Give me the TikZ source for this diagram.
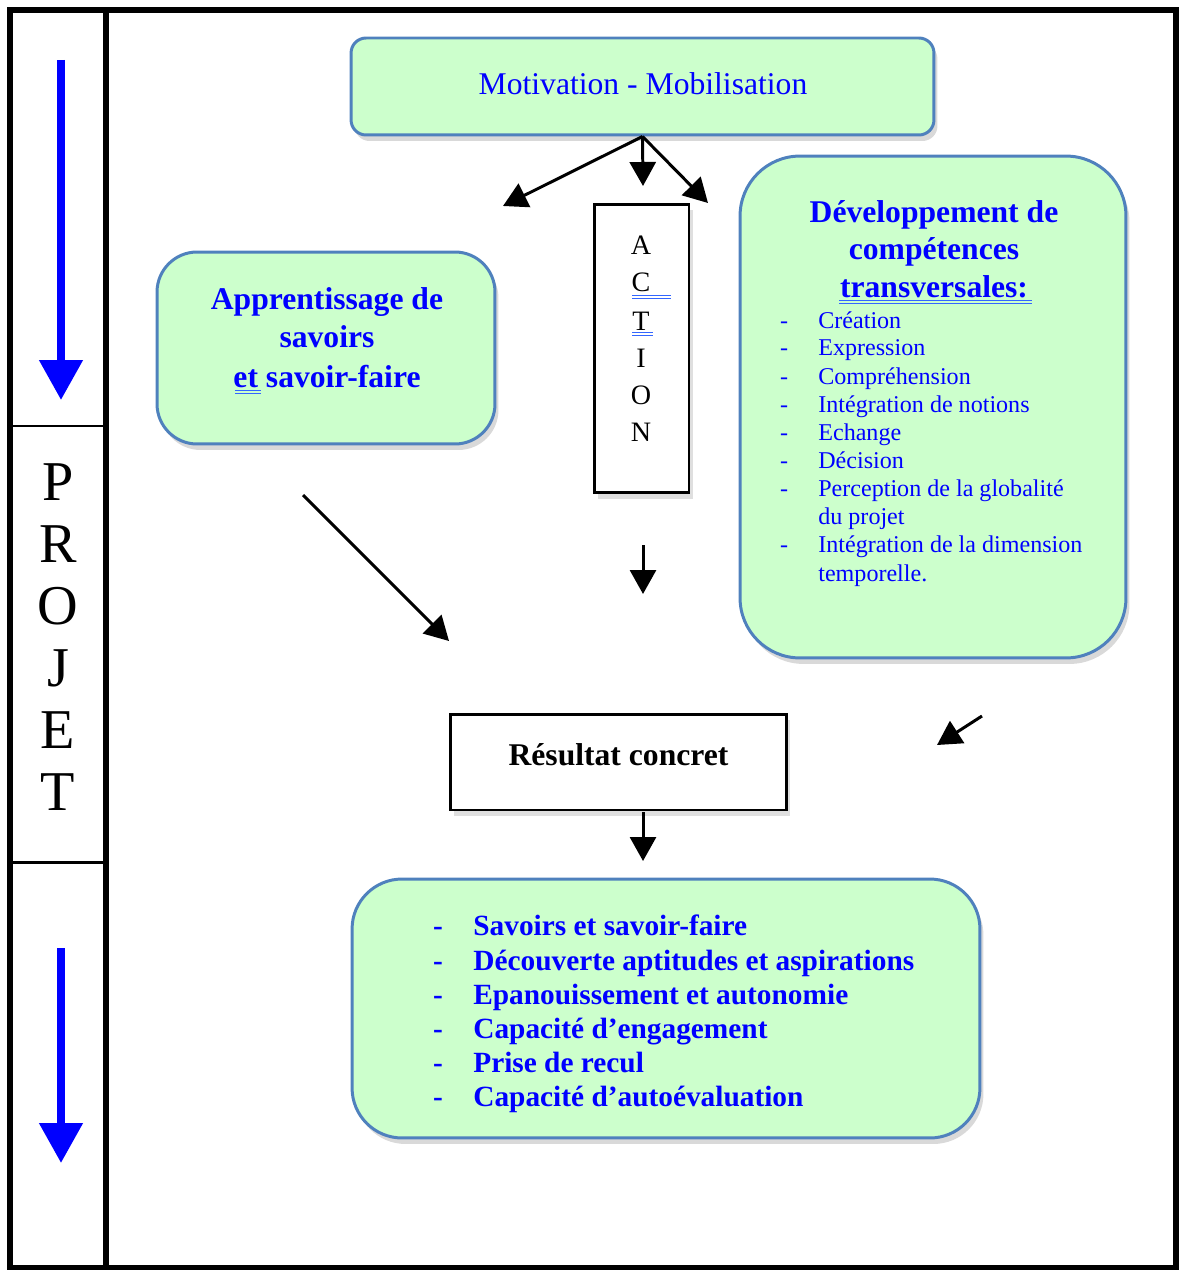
\documentclass[tikz,border=0pt]{standalone}
\usepackage{fontspec}
\setmainfont{Liberation Serif}
\usetikzlibrary{arrows.meta,shadows}

\definecolor{boxgreen}{HTML}{CCFFCC}
\definecolor{boxedge}{HTML}{4F81BD}
\definecolor{markblue}{HTML}{3366FF}

\begin{document}
\begin{tikzpicture}[x=0.02cm,y=-0.02cm,
    greenbox/.style={draw=boxedge,fill=boxgreen,line width=1.7pt,
        drop shadow={shadow xshift=0.07cm,shadow yshift=-0.12cm,opacity=0.3}},
    plainbox/.style={draw=black,fill=white,line width=1.7pt,
        drop shadow={shadow xshift=0.07cm,shadow yshift=-0.12cm,opacity=0.25}},
    flow/.style={-{Triangle[length=0.48cm,width=0.52cm]},line width=1.7pt},
    bigflow/.style={-{Triangle[length=0.8cm,width=0.84cm]},line width=4.5pt,blue},
    headtxt/.style={text=blue,inner sep=0pt,anchor=base,font=\fontsize{18}{21}\selectfont\bfseries},
    devtxt/.style={text=blue,inner sep=0pt,anchor=base west,font=\fontsize{13.7}{16}\selectfont},
    gaintxt/.style={text=blue,inner sep=0pt,anchor=base west,font=\fontsize{16.7}{19}\selectfont\bfseries},
    letter/.style={inner sep=0pt,anchor=base},
    dblmark/.style={markblue,line width=0.5pt}]
    \useasboundingbox (0,0) rectangle (1183,1270);

    % outer frame and PROJET column
    \draw[line width=3.4pt] (10,10) rectangle (1176,1268);
    \draw[line width=3.4pt] (106,10) -- (106,1268);
    \draw[line width=1.7pt] (10,426) -- (106,426);
    \draw[line width=1.7pt] (10,862) -- (106,862);

    \coordinate (flowtop) at (61,60);
    \coordinate (flowtopend) at (61,400);
    \coordinate (flowbot) at (61,948);
    \coordinate (flowbotend) at (61,1163);
    \draw[bigflow] (flowtop) -- (flowtopend);
    \draw[bigflow] (flowbot) -- (flowbotend);

    \foreach \l/\y [count=\i] in {P/500,R/562,O/624,J/686,E/748,T/810}
        \node[letter,font=\fontsize{32}{36}\selectfont] (proj\i) at (58,\y) {\l};

    % boxes
    \node[greenbox,rounded corners=0.3cm,minimum width=11.66cm,minimum height=1.94cm]
        (motiv) at (642.5,86.5) {};
    \node[greenbox,rounded corners=0.8cm,minimum width=6.76cm,minimum height=3.84cm]
        (appr) at (326,348) {};
    \node[greenbox,rounded corners=1.2cm,minimum width=7.72cm,minimum height=10.04cm]
        (dev) at (933,407) {};
    \node[plainbox,minimum width=1.9cm,minimum height=5.78cm]
        (action) at (641.5,348.5) {};
    \node[plainbox,minimum width=6.74cm,minimum height=1.92cm]
        (result) at (618.5,762) {};
    \node[greenbox,rounded corners=1.0cm,minimum width=12.56cm,minimum height=5.18cm]
        (gain) at (666,1008.5) {};

    % texts
    \node[text=blue,inner sep=0pt,anchor=base,font=\fontsize{18}{21}\selectfont]
        (motivtxt) at (643,95) {Motivation - Mobilisation};

    \foreach \t/\y [count=\i] in {Apprentissage de/310,savoirs/347,et savoir-faire/387}
        \node[headtxt] (appr\i) at (327,\y) {\t};
    \draw[dblmark] (235,390.5) -- (261,390.5) (235,393.5) -- (261,393.5);

    \foreach \t/\y [count=\i] in {Développement de/223,compétences/260,transversales:/297}
        \node[headtxt] (devhead\i) at (934,\y) {\t};
    \draw[dblmark] (839,300.5) -- (1032,300.5) (839,303.5) -- (1032,303.5);

    \foreach \t/\y [count=\i] in {Création/328,Expression/356,Compréhension/384,
        Intégration de notions/412,Echange/440,Décision/468,
        Perception de la globalité/496,Intégration de la dimension/552} {
        \node[devtxt,anchor=base] (devdash\i) at (784,\y) {-};
        \node[devtxt] (dev\i) at (818,\y) {\t};
    }
    \node[devtxt] (devmore1) at (818,524) {du projet};
    \node[devtxt] (devmore2) at (818,581) {temporelle.};

    \foreach \l/\y [count=\i] in {A/255,C/292,T/330,I/367,O/404,N/441}
        \node[letter,font=\fontsize{16}{18}\selectfont] (act\i) at (641,\y) {\l};
    \draw[dblmark] (632,295.5) -- (671,295.5) (632,298.5) -- (671,298.5);
    \draw[dblmark] (632,332.5) -- (653,332.5) (632,335.5) -- (653,335.5);

    \node[inner sep=0pt,anchor=base,font=\fontsize{18}{21}\selectfont\bfseries]
        (resulttxt) at (618.5,765) {Résultat concret};

    \foreach \t/\y [count=\i] in {Savoirs et savoir-faire/935,
        Découverte aptitudes et aspirations/970,Epanouissement et autonomie/1004,
        Capacité d’engagement/1038,Prise de recul/1072,Capacité d’autoévaluation/1106} {
        \node[gaintxt,anchor=base] (gaindash\i) at (438,\y) {-};
        \node[gaintxt] (gain\i) at (473,\y) {\t};
    }

    % arrows
    \coordinate (toappr) at (503,206);
    \coordinate (toact) at (643,186);
    \coordinate (todev) at (708,203);
    \draw[flow] (motiv.south) -- (toappr);
    \draw[flow] (motiv.south) -- (toact);
    \draw[flow] (motiv.south) -- (todev);

    \coordinate (approut) at (303,495);
    \coordinate (apprin) at (449,641);
    \draw[flow] (approut) -- (apprin);

    \coordinate (actout) at (643,545);
    \coordinate (actin) at (643,594);
    \draw[flow] (actout) -- (actin);

    \coordinate (devout) at (982,716);
    \coordinate (devin) at (937,745);
    \draw[flow] (devout) -- (devin);

    \coordinate (resout) at (643,812);
    \coordinate (resin) at (643,861);
    \draw[flow] (resout) -- (resin);
\end{tikzpicture}
\end{document}
